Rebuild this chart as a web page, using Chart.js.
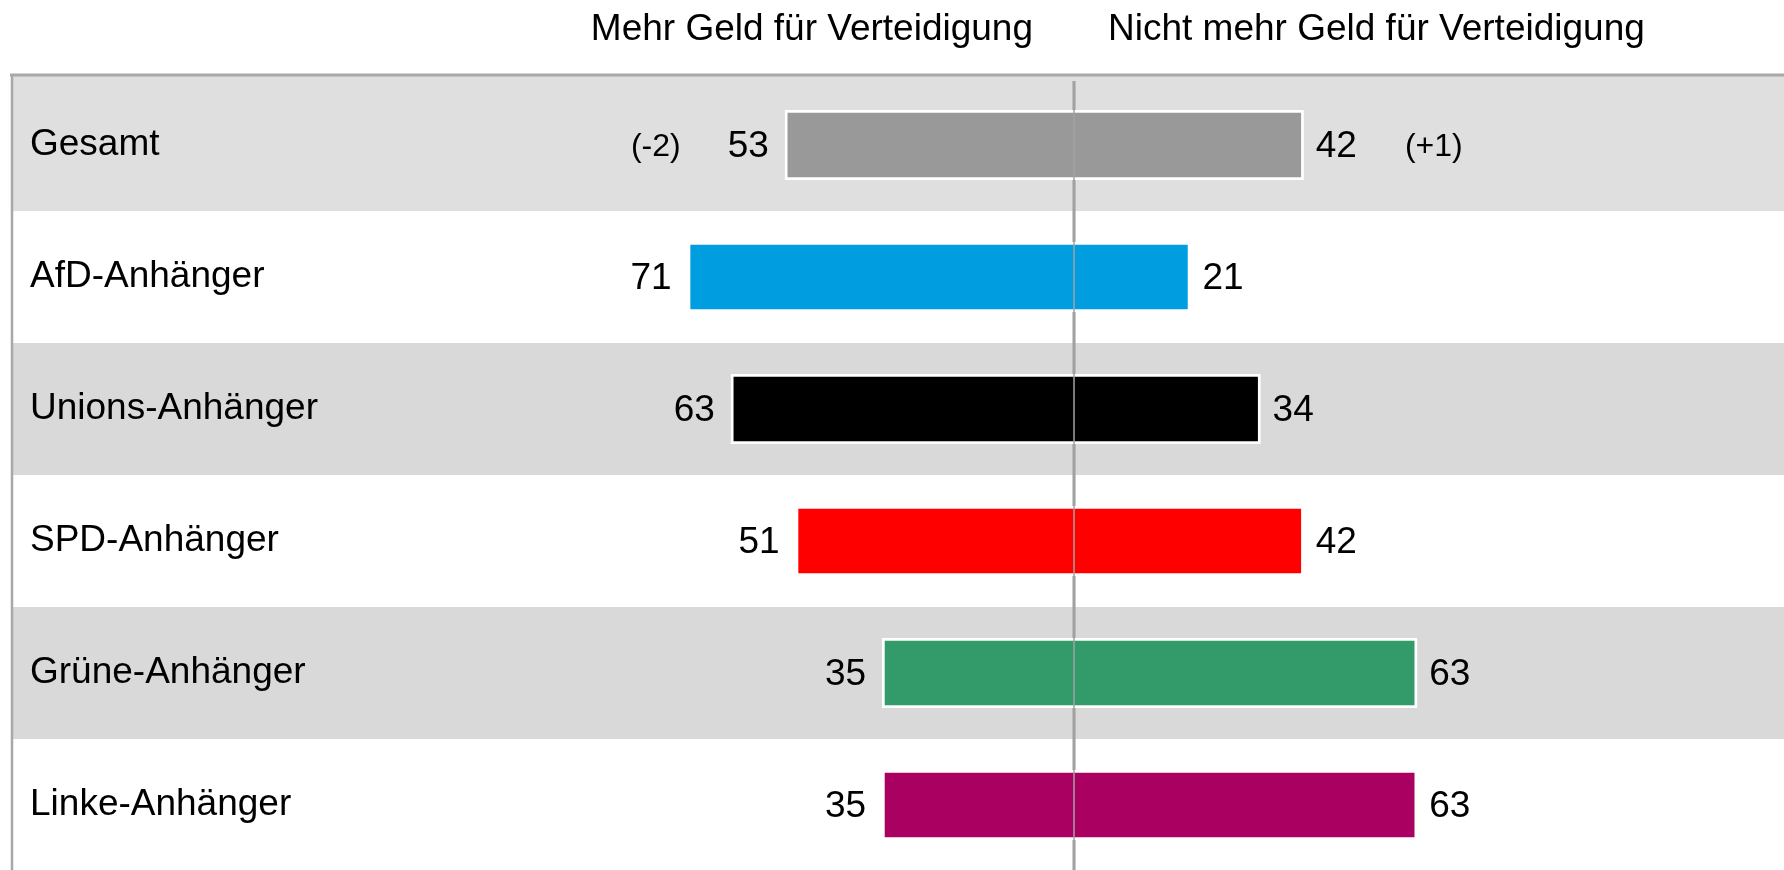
<!DOCTYPE html>
<html lang="de">
<head>
<meta charset="UTF-8">
<title>Mehr Geld für Verteidigung?</title>
<script src="https://cdn.jsdelivr.net/npm/chart.js@4.4.1/dist/chart.umd.min.js"></script>
<style>
    html, body { margin: 0; padding: 0; background: #ffffff; overflow: hidden; }
    #defenseChart { display: block; }
</style>
</head>
<body>
<canvas id="defenseChart" width="1784" height="871"></canvas>
<script>
// data
const groups = ['Gesamt', 'AfD-Anhänger', 'Unions-Anhänger', 'SPD-Anhänger', 'Grüne-Anhänger', 'Linke-Anhänger'];
const moreMoney = [53, 71, 63, 51, 35, 35];
const notMoreMoney = [42, 21, 34, 42, 63, 63];
const moreChange = [-2, null, null, null, null, null];
const notMoreChange = [1, null, null, null, null, null];
const groupColors = ['#999999', '#009ee0', '#000000', '#ff0000', '#339a6a', '#aa0061'];
const sideTitles = ['Mehr Geld für Verteidigung', 'Nicht mehr Geld für Verteidigung'];

const FONT = '"Liberation Sans", Arial, sans-serif';
const FRAME_Y = 75;

document.addEventListener("DOMContentLoaded", function () {
    Chart.defaults.font.family = FONT;

    function fmtChange(v) {
        return '(' + (v > 0 ? '+' : '') + v + ')';
    }

    // **1. Striped rows, frame, headings, centre line and labels**
    const tablePlugin = {
        id: 'tableLook',
        beforeDraw(chart) {
            const { ctx, chartArea, scales: { x, y } } = chart;
            const rowH = chartArea.height / groups.length;
            ctx.save();
            groups.forEach((g, i) => {
                if (i % 2 === 0) {
                    const cy = y.getPixelForValue(i);
                    const top = i === 0 ? FRAME_Y : cy - rowH / 2;
                    ctx.fillStyle = i === 0 ? '#dfdfdf' : '#d9d9d9';
                    ctx.fillRect(chartArea.left, top, chartArea.right - chartArea.left, cy + rowH / 2 - top);
                }
            });

            ctx.strokeStyle = '#a8a8a8';
            ctx.lineWidth = 3;
            ctx.beginPath();
            ctx.moveTo(chartArea.left - 2, FRAME_Y);
            ctx.lineTo(chartArea.right, FRAME_Y);
            ctx.stroke();
            ctx.lineWidth = 2.5;
            ctx.beginPath();
            ctx.moveTo(chartArea.left, FRAME_Y);
            ctx.lineTo(chartArea.left, chartArea.bottom);
            ctx.stroke();

            const zeroX = x.getPixelForValue(0);
            ctx.font = '37px ' + FONT;
            ctx.fillStyle = '#000000';
            ctx.textBaseline = 'alphabetic';
            ctx.textAlign = 'right';
            ctx.fillText(sideTitles[0], zeroX - 41, 40);
            ctx.textAlign = 'left';
            ctx.fillText(sideTitles[1], zeroX + 34, 40);
            ctx.restore();
        },
        beforeDatasetsDraw(chart) {
            const { ctx, chartArea, scales: { x } } = chart;
            const zeroX = x.getPixelForValue(0);
            ctx.save();
            ctx.strokeStyle = '#9c9c9c';
            ctx.lineWidth = 3;
            ctx.beginPath();
            ctx.moveTo(zeroX, chartArea.top + 2);
            ctx.lineTo(zeroX, chartArea.bottom);
            ctx.stroke();

            // white outline round every bar
            ctx.fillStyle = '#ffffff';
            chart.data.datasets.forEach((ds, di) => {
                chart.getDatasetMeta(di).data.forEach((bar) => {
                    const p = bar.getProps(['x', 'base', 'y', 'height'], true);
                    const l = Math.min(p.x, p.base);
                    const r = Math.max(p.x, p.base);
                    ctx.fillRect(l - 3, p.y - p.height / 2 - 3, r - l + 6, p.height + 6);
                });
            });
            ctx.restore();
        },
        afterDatasetsDraw(chart) {
            const { ctx, chartArea, scales: { x } } = chart;
            const zeroX = x.getPixelForValue(0);
            ctx.save();
            ctx.strokeStyle = '#a3a3a3';
            ctx.lineWidth = 1.5;
            ctx.beginPath();
            ctx.moveTo(zeroX, chartArea.top + 2);
            ctx.lineTo(zeroX, chartArea.bottom);
            ctx.stroke();

            const leftBars = chart.getDatasetMeta(0).data;
            const rightBars = chart.getDatasetMeta(1).data;
            ctx.fillStyle = '#000000';
            ctx.textBaseline = 'middle';
            groups.forEach((g, i) => {
                const lb = leftBars[i];
                const rb = rightBars[i];
                const leftTxt = String(moreMoney[i]);
                const rightTxt = String(notMoreMoney[i]);

                ctx.font = '37px ' + FONT;
                ctx.textAlign = 'right';
                ctx.fillText(leftTxt, lb.x - 19, lb.y + 2);
                ctx.textAlign = 'left';
                ctx.fillText(rightTxt, rb.x + 15, rb.y + 2);
                const lw = ctx.measureText(leftTxt).width;
                const rw = ctx.measureText(rightTxt).width;

                ctx.font = '32px ' + FONT;
                if (moreChange[i] !== null) {
                    ctx.textAlign = 'right';
                    ctx.fillText(fmtChange(moreChange[i]), lb.x - 19 - lw - 47, lb.y + 2);
                }
                if (notMoreChange[i] !== null) {
                    ctx.textAlign = 'left';
                    ctx.fillText(fmtChange(notMoreChange[i]), rb.x + 15 + rw + 48, rb.y + 2);
                }
            });
            ctx.restore();
        }
    };

    // **2. Diverging bar chart**
    const canvas = document.getElementById('defenseChart');
    if (canvas) {
        new Chart(canvas.getContext('2d'), {
            type: 'bar',
            data: {
                labels: groups,
                datasets: [{
                    label: sideTitles[0],
                    data: moreMoney.map(v => -v),
                    backgroundColor: groupColors,
                    borderWidth: 0,
                    barThickness: 64
                }, {
                    label: sideTitles[1],
                    data: notMoreMoney,
                    backgroundColor: groupColors,
                    borderWidth: 0,
                    barThickness: 64
                }]
            },
            options: {
                indexAxis: 'y',
                responsive: false,
                animation: false,
                devicePixelRatio: 1,
                layout: { padding: { top: 79, left: 12, right: 0, bottom: 0 } },
                plugins: {
                    legend: { display: false },
                    tooltip: { enabled: false }
                },
                scales: {
                    x: {
                        stacked: true,
                        display: false,
                        min: -196.7,
                        max: 131.5
                    },
                    y: {
                        stacked: true,
                        grid: { display: false, drawTicks: false },
                        border: { display: false },
                        ticks: {
                            mirror: true,
                            padding: 18,
                            autoSkip: false,
                            color: '#000000',
                            font: { size: 37, family: FONT }
                        },
                        afterFit: (scale) => {
                            // labels sit inside the rows, so the axis takes no room
                            scale.width = 0;
                            scale.paddingTop = 0;
                            scale.paddingBottom = 0;
                        }
                    }
                }
            },
            plugins: [tablePlugin]
        });
    }
});
</script>
</body>
</html>
